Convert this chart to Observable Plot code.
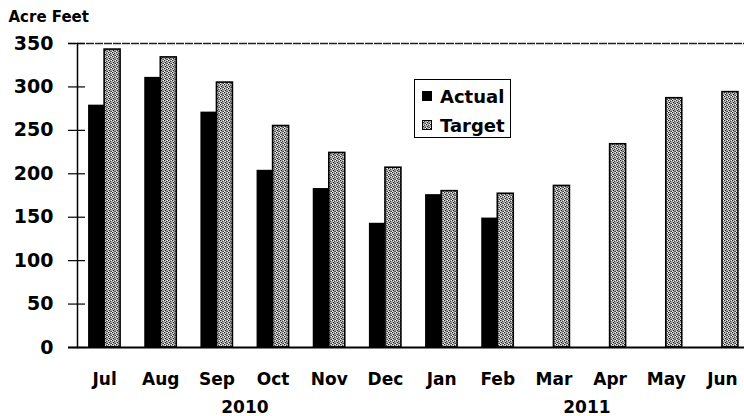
<!DOCTYPE html>
<html><head><meta charset="utf-8">
<script src="https://cdn.jsdelivr.net/npm/d3@7"></script>
<script src="https://cdn.jsdelivr.net/npm/@observablehq/plot@0.6"></script>
<style>
body{margin:0;background:#fff;}
#wrap{position:relative;width:744px;height:416px;overflow:hidden;background:#fff;}
#wrap svg{overflow:visible;}
#legend{position:absolute;left:414px;top:79px;width:95px;height:57px;border:1.6px solid #000;background:#fff;font:bold 18px "DejaVu Sans",sans-serif;color:#000;}
#legend .row{position:absolute;left:7px;height:22px;display:flex;align-items:center;}
#legend .row svg{margin-right:8px;}
</style></head>
<body><div id="wrap"></div>
<script>
const months = ["Jul","Aug","Sep","Oct","Nov","Dec","Jan","Feb","Mar","Apr","May","Jun"];
const actual = [279,311,271,204,183,143,176,149,null,null,null,null];
const target = [343,334,305,255,224,207,180,177,186,234,287,294];
const series = ["Actual","Target"];
const years = ["2010","2011"];
const yearAt = ["Sep","Mar"];
const yTicks = [0,50,100,150,200,250,300,350];
const yLabel = "Acre Feet";

const actualData = months.map((m,i)=>({month:m,value:actual[i]})).filter(d=>d.value!=null);
const targetData = months.map((m,i)=>({month:m,value:target[i]}));

const font = '"DejaVu Sans", sans-serif';
const svg = Plot.plot({
  width: 744, height: 416,
  marginTop: 43, marginBottom: 69, marginLeft: 77, marginRight: 0,
  style: {fontFamily: font, background: "#fff", color: "#000"},
  x: {type: "band", domain: months, range: [76, 750], paddingInner: 0.43, paddingOuter: 0.215, round: false, axis: null, label: null},
  y: {domain: [0, 350], axis: null, label: null},
  marks: [
    Plot.barY(actualData, {x: "month", y: "value", fill: "#000", insetRight: 16.05}),
    Plot.barY(targetData, {x: "month", y: "value", fill: "url(#tex)", stroke: "#000", strokeWidth: 1.6, insetLeft: 16.05}),
    Plot.ruleY([350], {stroke: "#222", strokeWidth: 1.4, insetLeft: -9, strokeDasharray: "8,1"}),
    Plot.ruleY([0], {stroke: "#000", strokeWidth: 2.2, insetLeft: -9}),
    Plot.frame({anchor: "left", stroke: "#000", strokeWidth: 1.5}),
    Plot.axisY({ticks: yTicks, tickSize: 17, dx: 8, text: null, label: null, stroke: "#000", strokeWidth: 1.2}),
    Plot.axisY({ticks: yTicks, tickSize: 0, tickPadding: 24, label: null, fontSize: 19, fontWeight: "bold", fontFamily: font, fill: "#000"}),
    Plot.text(months, {x: d => d, frameAnchor: "bottom", dy: 32.5, lineAnchor: "middle", fontSize: 17, fontWeight: "bold", fontFamily: font, fill: "#000"}),
    Plot.text([years[0]], {x: () => yearAt[0], frameAnchor: "bottom", dy: 60.5, dx: 28, lineAnchor: "middle", fontSize: 17, fontWeight: "bold", fontFamily: font, fill: "#000"}),
    Plot.text([years[1]], {x: () => yearAt[1], frameAnchor: "bottom", dy: 60.5, dx: 33, lineAnchor: "middle", fontSize: 17, fontWeight: "bold", fontFamily: font, fill: "#000"}),
    Plot.text([yLabel], {frameAnchor: "top-left", dx: -69, dy: -26, textAnchor: "start", lineAnchor: "middle", fontSize: 15, fontWeight: "bold", fontFamily: font, fill: "#000"})
  ]
});
svg.insertAdjacentHTML("afterbegin",
  `<defs><pattern id="tex" width="4" height="4" patternUnits="userSpaceOnUse">
    <rect width="4" height="4" fill="#a6a6a6"/>
    <rect x="0" y="0" width="1" height="1" fill="#202020"/>
    <rect x="2" y="1" width="1" height="1" fill="#404040"/>
    <rect x="1" y="2" width="1" height="1" fill="#202020"/>
    <rect x="3" y="3" width="1" height="1" fill="#404040"/>
    <rect x="3" y="0" width="1" height="1" fill="#f4f4f4"/>
    <rect x="1" y="1" width="1" height="1" fill="#e0e0e0"/>
    <rect x="0" y="3" width="1" height="1" fill="#f4f4f4"/>
    <rect x="2" y="3" width="1" height="1" fill="#707070"/>
  </pattern></defs>`);
const wrap = document.getElementById("wrap");
wrap.appendChild(svg);

const legend = document.createElement("div");
legend.id = "legend";
series.forEach((s, i) => {
  const row = document.createElement("div");
  row.className = "row";
  row.style.top = (5 + i * 29) + "px";
  const sw = i === 0
    ? `<svg width="10" height="10"><rect width="10" height="10" fill="#000"/></svg>`
    : `<svg width="10" height="10"><rect x="0.5" y="0.5" width="9" height="9" fill="url(#tex)" stroke="#000" stroke-width="1"/></svg>`;
  row.innerHTML = sw + `<span>${s}</span>`;
  legend.appendChild(row);
});
wrap.appendChild(legend);
</script>
</body></html>
